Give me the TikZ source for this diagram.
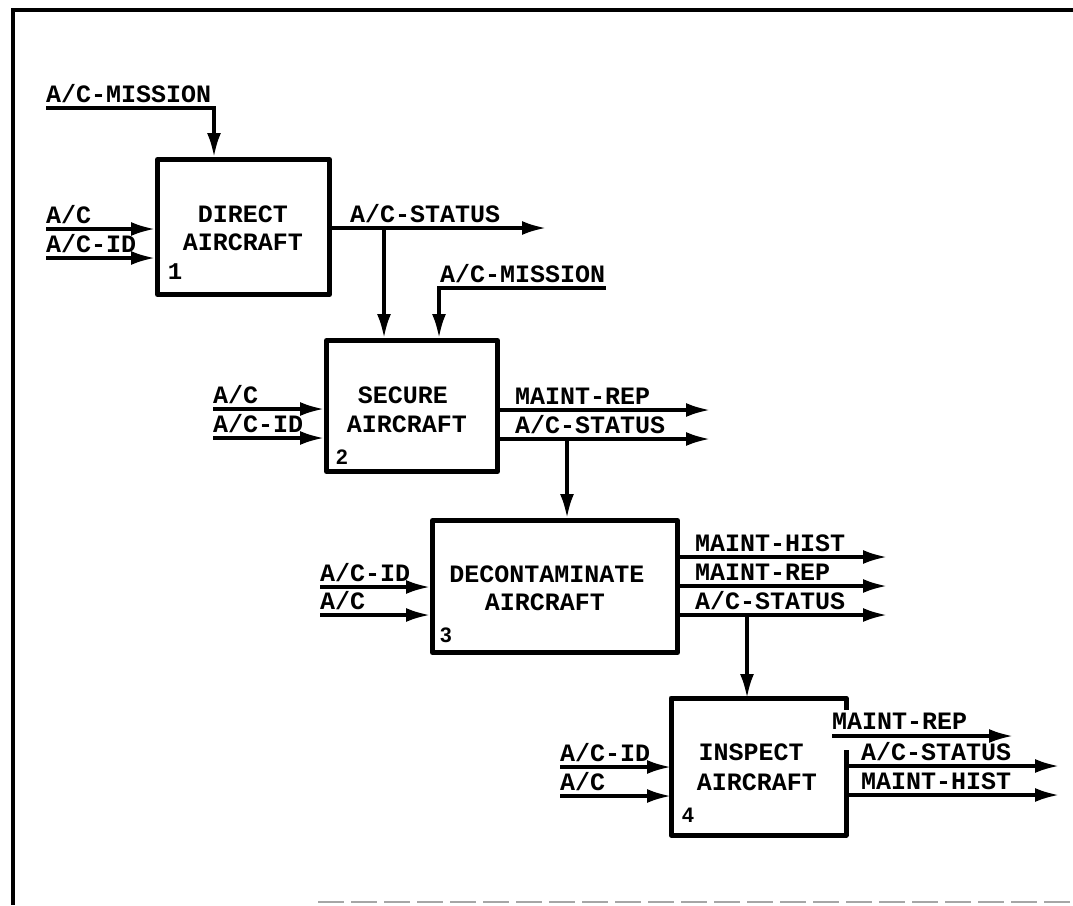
\documentclass[tikz,border=0pt]{standalone}
\usepackage{fontspec}
\newfontfamily\twfont{Liberation Mono}
\newfontfamily\numfont{Liberation Sans}
\usetikzlibrary{arrows.meta}
\begin{document}
\begin{tikzpicture}[x=1pt,y=-1pt,
  box/.style={draw, line width=5pt, inner sep=0, anchor=north west, line join=round},
  flow/.style={line width=3.3pt, -{Latex[length=24pt,width=14pt]}},
  lbl/.style={anchor=base west, inner sep=0, font=\twfont\bfseries\fontsize{25}{29}\selectfont},
  ttl/.style={anchor=base, inner sep=0, font=\twfont\bfseries\fontsize{25}{29}\selectfont},
  num/.style={inner sep=0, font=\numfont\bfseries\fontsize{21}{21}\selectfont},
  numtw/.style={inner sep=0, font=\twfont\bfseries\fontsize{24}{24}\selectfont},
  frameline/.style={line width=4pt}]
\useasboundingbox (0,0) rectangle (1073,905);
% frame
\draw[frameline] (1073,10) -- (13,10) -- (13,905);
\draw[line width=2.5pt, gray!70, dash pattern=on 26pt off 7pt] (318,902) -- (1073,902);

% boxes
\node[box, minimum width=172pt, minimum height=135pt] (b1) at (155,157) {};
\node[box, minimum width=171pt, minimum height=131pt] (b2) at (324,338) {};
\node[box, minimum width=245pt, minimum height=132pt] (b3) at (430,518) {};
\node[box, draw=none, minimum width=170pt, minimum height=132pt] (b4) at (671,698) {};
\draw[line width=5pt, line join=round] ([yshift=-12pt]b4.north east) -- (b4.north east) -- (b4.north west) -- (b4.south west) -- (b4.south east) -- ([yshift=85pt]b4.south east);

% box titles
\node[ttl] (t1a) at (243,222) {DIRECT};
\node[ttl] (t1b) at (243,250) {AIRCRAFT};
\node[ttl] (t2a) at (403,403) {SECURE};
\node[ttl] (t2b) at (407,432) {AIRCRAFT};
\node[ttl] (t3a) at (547,582) {DECONTAMINATE};
\node[ttl] (t3b) at (545,610) {AIRCRAFT};
\node[ttl] (t4a) at (751,760) {INSPECT};
\node[ttl] (t4b) at (757,790) {AIRCRAFT};

% box numbers
\node[numtw] (n1) at (175,272) {1};
\node[num] (n2) at (342,457) {2};
\node[num] (n3) at (446,635) {3};
\node[num] (n4) at (688,815) {4};

% ---- box 1
\coordinate (m1s) at (46,108);
\coordinate (m1k) at (214,108);
\draw[flow] (m1s) -- (m1k) -- (m1k |- b1.north);
\node[lbl] (l1m) at (46,102) {A/C-MISSION};
\coordinate (a1s) at (46,229);
\coordinate (i1s) at (46,258);
\draw[flow] (a1s) -- (a1s -| b1.west);
\draw[flow] (i1s) -- (i1s -| b1.west);
\node[lbl] (l1a) at (46,223) {A/C};
\node[lbl] (l1i) at (46,252) {A/C-ID};
\coordinate (s1e) at (546,228);
\draw[flow] (s1e -| b1.east) -- (s1e);
\node[lbl] (l1s) at (350,222) {A/C-STATUS};
\coordinate (br1) at (384,228);
\draw[flow] (br1) -- (br1 |- b2.north);

% ---- box 2
\coordinate (m2s) at (606,288);
\coordinate (m2k) at (439,288);
\draw[flow] (m2s) -- (m2k) -- (m2k |- b2.north);
\node[lbl] (l2m) at (440,282) {A/C-MISSION};
\coordinate (a2s) at (213,409);
\coordinate (i2s) at (213,438);
\draw[flow] (a2s) -- (a2s -| b2.west);
\draw[flow] (i2s) -- (i2s -| b2.west);
\node[lbl] (l2a) at (213,403) {A/C};
\node[lbl] (l2i) at (213,432) {A/C-ID};
\coordinate (r2e) at (710,410);
\coordinate (s2e) at (710,439);
\draw[flow] (r2e -| b2.east) -- (r2e);
\draw[flow] (s2e -| b2.east) -- (s2e);
\node[lbl] (l2r) at (515,404) {MAINT-REP};
\node[lbl] (l2s) at (515,433) {A/C-STATUS};
\coordinate (br2) at (567,439);
\draw[flow] (br2) -- (br2 |- b3.north);

% ---- box 3
\coordinate (i3s) at (320,587);
\coordinate (a3s) at (320,615);
\draw[flow] (i3s) -- (i3s -| b3.west);
\draw[flow] (a3s) -- (a3s -| b3.west);
\node[lbl] (l3i) at (320,581) {A/C-ID};
\node[lbl] (l3a) at (320,609) {A/C};
\coordinate (h3e) at (887,557);
\coordinate (r3e) at (887,586);
\coordinate (s3e) at (887,615);
\draw[flow] (h3e -| b3.east) -- (h3e);
\draw[flow] (r3e -| b3.east) -- (r3e);
\draw[flow] (s3e -| b3.east) -- (s3e);
\node[lbl] (l3h) at (695,551) {MAINT-HIST};
\node[lbl] (l3r) at (695,580) {MAINT-REP};
\node[lbl] (l3s) at (695,609) {A/C-STATUS};
\coordinate (br3) at (747,615);
\draw[flow] (br3) -- (br3 |- b4.north);

% ---- box 4
\coordinate (i4s) at (560,767);
\coordinate (a4s) at (560,796);
\draw[flow] (i4s) -- (i4s -| b4.west);
\draw[flow] (a4s) -- (a4s -| b4.west);
\node[lbl] (l4i) at (560,761) {A/C-ID};
\node[lbl] (l4a) at (560,790) {A/C};
\coordinate (r4s) at (832,736);
\coordinate (r4e) at (1013,736);
\draw[flow] (r4s) -- (r4e);
\coordinate (s4e) at (1059,766);
\coordinate (h4e) at (1059,795);
\draw[flow] (s4e -| b4.east) -- (s4e);
\draw[flow] (h4e -| b4.east) -- (h4e);
\node[lbl] (l4r) at (832,729) {MAINT-REP};
\node[lbl] (l4s) at (861,760) {A/C-STATUS};
\node[lbl] (l4h) at (861,789) {MAINT-HIST};
\end{tikzpicture}
\end{document}
